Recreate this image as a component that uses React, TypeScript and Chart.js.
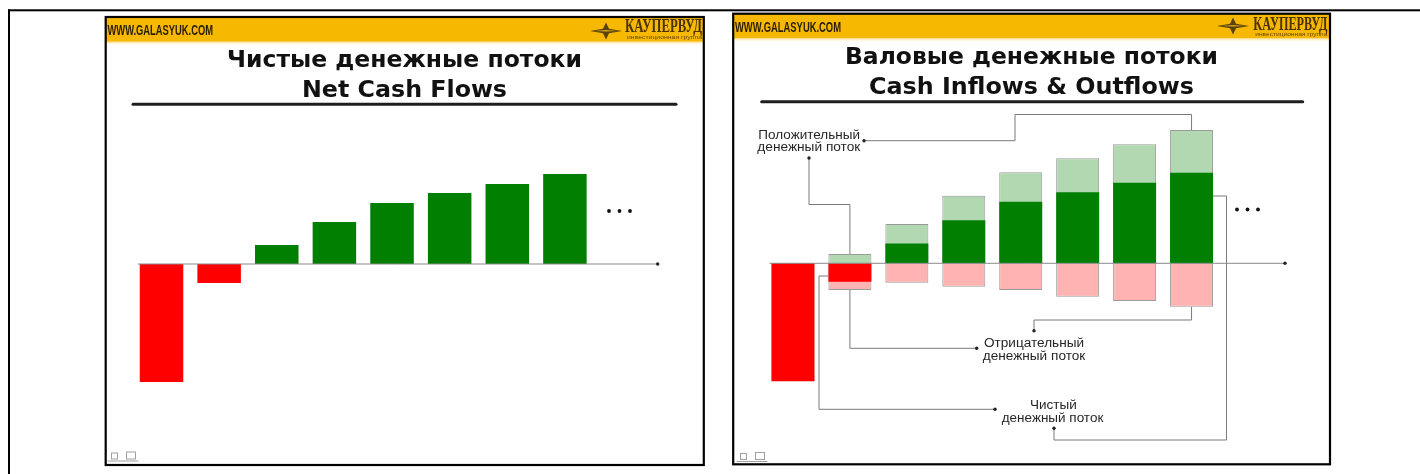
import React, { useEffect, useRef } from 'react';
import { Chart, registerables } from 'chart.js';

Chart.register(...registerables);

const W = 1420;
const H = 474;

// ---------------- data ----------------
const periods = [1, 2, 3, 4, 5, 6, 7, 8];
const netCashFlows = [-118, -19, 19, 42, 61, 71, 80, 90];
const grossNetFlows = [-118, -18.5, 19.7, 43, 61.6, 71, 80.6, 90.6];
const cashInflows = [0, 9.3, 39.3, 67.5, 91, 105, 119, 133.3];
const cashOutflows = [118, 26.7, 19.4, 23.4, 26.7, 33.4, 37.7, 43.4];

const slide1Title = ['Чистые денежные потоки', 'Net Cash Flows'];
const slide2Title = ['Валовые денежные потоки', 'Cash Inflows & Outflows'];
const positiveLabel = ['Положительный', 'денежный поток'];
const negativeLabel = ['Отрицательный', 'денежный поток'];
const netLabel = ['Чистый', 'денежный поток'];
const siteText = 'WWW.GALASYUK.COM';
const brandText = 'КАУПЕРВУД';
const brandSub = 'инвестиционная группа';

// ---------------- styles ----------------
const RED = '#fe0000';
const GREEN = '#007f00';
const LIGHT_GREEN = '#b2d8b2';
const PINK = '#ffb3b3';
const YELLOW = '#f6b800';
const LINE = '#7a7a7a';

type Slide = {
  left: number; top: number; right: number; bottom: number; band: number;
  urlX: number; urlBase: number; urlW: number;
  starX: number; starY: number;
  brandX: number; brandBase: number; brandW: number; subBase: number;
  cx: number; t1Base: number; t2Base: number; t1W: number; t2W: number;
  ruleX0: number; ruleX1: number; ruleY: number;
  iconX: number; iconY: number;
  title: string[];
};

const slide1: Slide = {
  left: 105.7, top: 17, right: 703.8, bottom: 465, band: 41.7,
  urlX: 107.5, urlBase: 35, urlW: 105.5,
  starX: 606, starY: 31,
  brandX: 625, brandBase: 32, brandW: 77, subBase: 39,
  cx: 404.5, t1Base: 66.5, t2Base: 96.5, t1W: 355, t2W: 205,
  ruleX0: 133, ruleX1: 676, ruleY: 104.3,
  iconX: 108, iconY: 449.5,
  title: slide1Title,
};

const slide2: Slide = {
  left: 733.2, top: 13.7, right: 1330, bottom: 464.3, band: 38.3,
  urlX: 735, urlBase: 31.5, urlW: 106,
  starX: 1233, starY: 26,
  brandX: 1253.3, brandBase: 29.5, brandW: 74, subBase: 35.5,
  cx: 1031.5, t1Base: 64, t2Base: 94, t1W: 373, t2W: 325,
  ruleX0: 761.7, ruleX1: 1302.7, ruleY: 101.7,
  iconX: 737, iconY: 450,
  title: slide2Title,
};

function drawText(
  ctx: CanvasRenderingContext2D, text: string, x: number, baseline: number,
  width: number, font: string, color: string, align: 'left' | 'center'
) {
  ctx.save();
  ctx.font = font;
  const m = ctx.measureText(text).width;
  const sx = width / m;
  ctx.translate(align === 'center' ? x - width / 2 : x, baseline);
  ctx.scale(sx, 1);
  ctx.textAlign = 'left';
  ctx.textBaseline = 'alphabetic';
  ctx.fillStyle = color;
  ctx.fillText(text, 0, 0);
  ctx.restore();
}

function drawStar(ctx: CanvasRenderingContext2D, cx: number, cy: number) {
  ctx.save();
  ctx.fillStyle = '#5b4208';
  ctx.beginPath();
  ctx.moveTo(cx - 16, cy);
  ctx.lineTo(cx - 3, cy - 2.2);
  ctx.lineTo(cx, cy - 8.5);
  ctx.lineTo(cx + 3, cy - 2.2);
  ctx.lineTo(cx + 16, cy);
  ctx.lineTo(cx + 3, cy + 2.2);
  ctx.lineTo(cx, cy + 8.5);
  ctx.lineTo(cx - 3, cy + 2.2);
  ctx.closePath();
  ctx.fill();
  ctx.fillStyle = '#d9a520';
  ctx.beginPath();
  ctx.moveTo(cx - 12, cy);
  ctx.lineTo(cx, cy - 1);
  ctx.lineTo(cx + 12, cy);
  ctx.lineTo(cx, cy + 0.6);
  ctx.closePath();
  ctx.fill();
  ctx.restore();
}

function drawNavIcon(ctx: CanvasRenderingContext2D, x: number, y: number) {
  ctx.save();
  ctx.strokeStyle = '#a0a0a0';
  ctx.lineWidth = 1;
  ctx.strokeRect(x + 3.5, y + 3.5, 6, 6);
  ctx.strokeRect(x + 18.5, y + 2.5, 9, 7);
  ctx.beginPath();
  ctx.moveTo(x, y + 11.5);
  ctx.lineTo(x + 30, y + 11.5);
  ctx.stroke();
  ctx.restore();
}

function drawFrame(ctx: CanvasRenderingContext2D, s: Slide) {
  ctx.save();
  const w = s.right - s.left;
  ctx.fillStyle = '#ffffff';
  ctx.fillRect(s.left, s.top, w, s.bottom - s.top);
  ctx.fillStyle = YELLOW;
  ctx.fillRect(s.left, s.top, w, s.band - s.top);
  const g = ctx.createLinearGradient(0, s.band, 0, s.band + 4);
  g.addColorStop(0, 'rgba(248,205,80,0.7)');
  g.addColorStop(1, 'rgba(255,255,255,0)');
  ctx.fillStyle = g;
  ctx.fillRect(s.left, s.band, w, 4);

  drawText(ctx, siteText, s.urlX, s.urlBase, s.urlW, 'bold 14px "Liberation Sans"', '#2a1e00', 'left');
  drawStar(ctx, s.starX, s.starY);
  drawText(ctx, brandText, s.brandX, s.brandBase, s.brandW, 'bold 19px "Liberation Serif"', '#4b3200', 'left');
  drawText(ctx, brandSub, s.brandX + 2, s.subBase, s.brandW - 2, '5px "Liberation Sans"', '#6a4a00', 'left');

  drawText(ctx, s.title[0], s.cx, s.t1Base, s.t1W, 'bold 23px "DejaVu Sans"', '#111111', 'center');
  drawText(ctx, s.title[1], s.cx, s.t2Base, s.t2W, 'bold 23px "DejaVu Sans"', '#111111', 'center');

  ctx.strokeStyle = '#1e1e1e';
  ctx.lineWidth = 3;
  ctx.lineCap = 'round';
  ctx.beginPath();
  ctx.moveTo(s.ruleX0, s.ruleY);
  ctx.lineTo(s.ruleX1, s.ruleY);
  ctx.stroke();

  drawNavIcon(ctx, s.iconX, s.iconY);

  ctx.strokeStyle = '#000000';
  ctx.lineWidth = 2.2;
  ctx.lineCap = 'butt';
  ctx.strokeRect(s.left, s.top, w, s.bottom - s.top);
  ctx.restore();
}

function dot(ctx: CanvasRenderingContext2D, x: number, y: number) {
  ctx.save();
  ctx.fillStyle = '#222';
  ctx.beginPath();
  ctx.arc(x, y, 1.7, 0, Math.PI * 2);
  ctx.fill();
  ctx.restore();
}

function drawAxis(chart: any) {
  const ctx: CanvasRenderingContext2D = chart.ctx;
  const ys = chart.scales.y;
  const y0 = ys.getPixelForValue(0);
  const firstBar = chart.getDatasetMeta(0).data[0] as any;
  const x0 = firstBar.x - firstBar.width / 2 - 2;
  const x1 = chart.chartArea.right;
  ctx.save();
  ctx.strokeStyle = '#8a8a8a';
  ctx.lineWidth = 1;
  ctx.beginPath();
  ctx.moveTo(x0, y0);
  ctx.lineTo(x1, y0);
  ctx.stroke();
  ctx.restore();
  dot(ctx, x1, y0);
}

function drawEllipsis(ctx: CanvasRenderingContext2D, x: number, y: number) {
  for (let i = 0; i < 3; i++) {
    ctx.save();
    ctx.fillStyle = '#111';
    ctx.beginPath();
    ctx.arc(x + i * 10.5, y, 1.9, 0, Math.PI * 2);
    ctx.fill();
    ctx.restore();
  }
}

function path(ctx: CanvasRenderingContext2D, pts: number[][]) {
  ctx.save();
  ctx.strokeStyle = LINE;
  ctx.lineWidth = 1;
  ctx.beginPath();
  ctx.moveTo(pts[0][0], pts[0][1]);
  for (let i = 1; i < pts.length; i++) ctx.lineTo(pts[i][0], pts[i][1]);
  ctx.stroke();
  ctx.restore();
  const last = pts[pts.length - 1];
  dot(ctx, last[0], last[1]);
}

const slide1Plugin = {
  id: 'slide1Deco',
  beforeDraw(chart: any) {
    const ctx: CanvasRenderingContext2D = chart.ctx;
    ctx.save();
    ctx.fillStyle = '#ffffff';
    ctx.fillRect(0, 0, W, H);
    ctx.fillStyle = '#000000';
    ctx.fillRect(8, 9.3, W - 8, 2);
    ctx.fillRect(8, 9.3, 2, H - 9.3);
    ctx.restore();
    drawFrame(ctx, slide1);
  },
  afterDatasetsDraw(chart: any) {
    drawAxis(chart);
    drawEllipsis(chart.ctx, 609, 211);
  },
};

const slide2Plugin = {
  id: 'slide2Deco',
  beforeDraw(chart: any) {
    drawFrame(chart.ctx, slide2);
  },
  beforeDatasetsDraw(chart: any) {
    const ctx: CanvasRenderingContext2D = chart.ctx;
    const inflowMeta = chart.getDatasetMeta(1).data as any[];
    const outflowMeta = chart.getDatasetMeta(2).data as any[];
    const b2in = inflowMeta[1];
    const b2out = outflowMeta[1];
    const b8in = inflowMeta[7];
    const b8out = outflowMeta[7];
    // positive flow connectors
    path(ctx, [[b8in.x, b8in.y], [b8in.x, 114.5], [1015, 114.5], [1015, 140.7], [864, 140.7]]);
    path(ctx, [[b2in.x, b2in.y], [b2in.x, 204.5], [809, 204.5], [809, 158]]);
    // negative flow connectors
    path(ctx, [[b2out.x, b2out.y], [b2out.x, 348.3], [976.7, 348.3]]);
    path(ctx, [[b8out.x, b8out.y], [b8out.x, 320], [1034, 320], [1034, 330.7]]);
    // net flow connectors
    path(ctx, [[b2in.x - b2in.width / 2, 276], [819, 276], [819, 409.3], [995, 409.3]]);
    path(ctx, [[b8in.x + b8in.width / 2, 196], [1226.5, 196], [1226.5, 440], [1054, 440], [1054, 428.3]]);
  },
  afterDatasetsDraw(chart: any) {
    const ctx: CanvasRenderingContext2D = chart.ctx;
    drawAxis(chart);
    drawEllipsis(ctx, 1237, 209.5);
    const f = '12.5px "Liberation Sans"';
    const c = '#262626';
    drawText(ctx, positiveLabel[0], 758.3, 138.6, 101.7, f, c, 'left');
    drawText(ctx, positiveLabel[1], 757.3, 150.5, 103, f, c, 'left');
    drawText(ctx, negativeLabel[0], 984, 347, 100, f, c, 'left');
    drawText(ctx, negativeLabel[1], 982.7, 359.5, 102.6, f, c, 'left');
    drawText(ctx, netLabel[0], 1030, 408.6, 46.7, f, c, 'left');
    drawText(ctx, netLabel[1], 1001.7, 421.5, 101.6, f, c, 'left');
  },
};

function baseOptions(padLeft: number, padRight: number, xMax: number, yMin: number, yMax: number) {
  return {
    responsive: false,
    maintainAspectRatio: false,
    devicePixelRatio: 1,
    animation: false as const,
    events: [] as any[],
    layout: { padding: { left: padLeft, right: padRight, top: 110, bottom: H - 440 } },
    plugins: {
      legend: { display: false },
      tooltip: { enabled: false },
      title: { display: false },
    },
    scales: {
      x: { type: 'linear' as const, min: 0.5, max: xMax, display: false, offset: false },
      y: { type: 'linear' as const, min: yMin, max: yMax, display: false },
    },
  };
}

export default function App() {
  const ref1 = useRef<HTMLCanvasElement>(null);
  const ref2 = useRef<HTMLCanvasElement>(null);

  useEffect(() => {
    const c1 = new Chart(ref1.current as HTMLCanvasElement, {
      type: 'bar',
      data: {
        datasets: [
          {
            label: 'Net cash flow',
            data: periods.map((p, i) => ({ x: p, y: netCashFlows[i] })),
            backgroundColor: netCashFlows.map((v) => (v < 0 ? RED : GREEN)),
            borderWidth: 0,
            categoryPercentage: 1,
            barPercentage: 0.755,
          },
        ],
      },
      options: baseOptions(132.7, W - 657.7, 9.61, -176, 154) as any,
      plugins: [slide1Plugin],
    });

    const c2 = new Chart(ref2.current as HTMLCanvasElement, {
      type: 'bar',
      data: {
        datasets: [
          {
            label: 'Net cash flow',
            data: periods.map((p, i) => ({ x: p, y: grossNetFlows[i] })),
            backgroundColor: grossNetFlows.map((v) => (v < 0 ? RED : GREEN)),
            borderWidth: 0,
            grouped: false,
            categoryPercentage: 1,
            barPercentage: 0.755,
          },
          {
            label: 'Cash inflow',
            data: periods.map((p, i) => ({ x: p, y: cashInflows[i] })),
            backgroundColor: LIGHT_GREEN,
            borderColor: '#9a9a9a',
            borderWidth: 1,
            grouped: false,
            categoryPercentage: 1,
            barPercentage: 0.755,
          },
          {
            label: 'Cash outflow',
            data: periods.map((p, i) => ({ x: p, y: -cashOutflows[i] })),
            backgroundColor: PINK,
            borderColor: '#9a9a9a',
            borderWidth: 1,
            grouped: false,
            categoryPercentage: 1,
            barPercentage: 0.755,
          },
        ] as any,
      },
      options: baseOptions(764.5, W - 1285, 9.641, -176.7, 153.3) as any,
      plugins: [slide2Plugin],
    });

    return () => {
      c1.destroy();
      c2.destroy();
    };
  }, []);

  return (
    <div style={{ position: 'fixed', left: 0, top: 0, width: W, height: H, background: '#fff' }}>
      <canvas ref={ref1} width={W} height={H} style={{ position: 'absolute', left: 0, top: 0 }} />
      <canvas ref={ref2} width={W} height={H} style={{ position: 'absolute', left: 0, top: 0 }} />
    </div>
  );
}
